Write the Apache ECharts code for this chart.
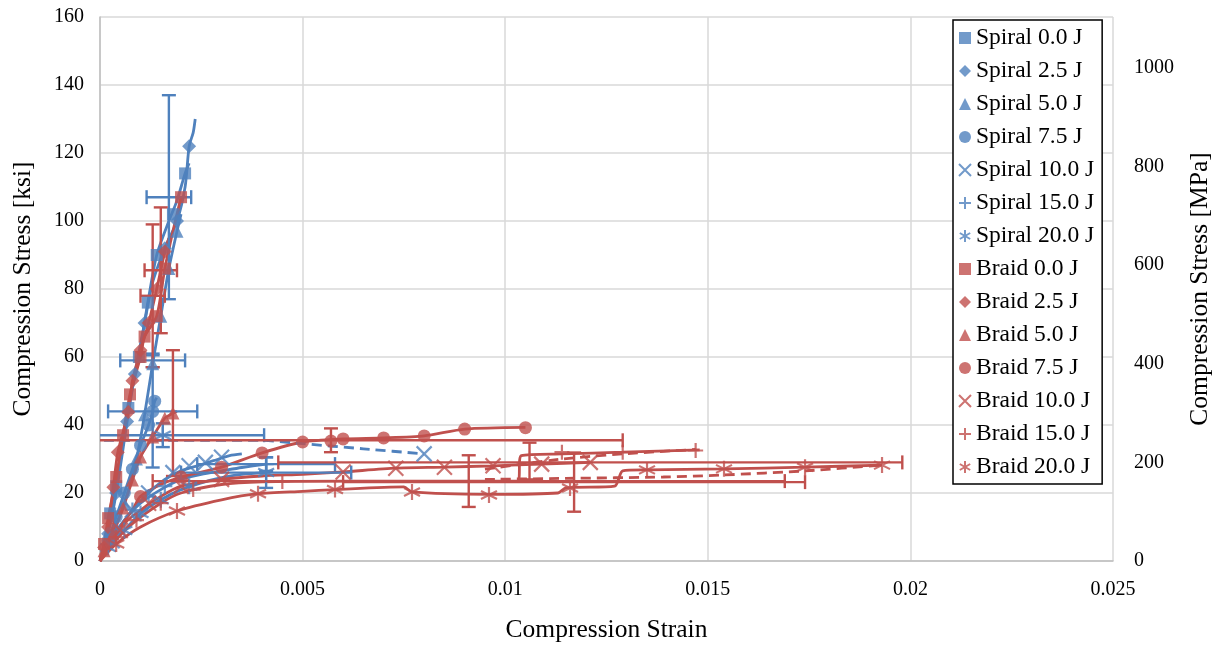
<!DOCTYPE html>
<html><head><meta charset="utf-8">
<script src="https://cdn.jsdelivr.net/npm/echarts@6/dist/echarts.min.js"></script>
<style>html,body{margin:0;padding:0;background:#fff}#c{width:1220px;height:645px}</style>
</head><body><div id="c"></div>
<script>
// ---------- DATA ----------
const seriesNames = ['Spiral 0.0 J','Spiral 2.5 J','Spiral 5.0 J','Spiral 7.5 J','Spiral 10.0 J','Spiral 15.0 J','Spiral 20.0 J',
  'Braid 0.0 J','Braid 2.5 J','Braid 5.0 J','Braid 7.5 J','Braid 10.0 J','Braid 15.0 J','Braid 20.0 J'];

// full stress-strain curves [strain, ksi]
const curveS00 = [[0,0],[0.0001,4],[0.00025,14],[0.0004,22],[0.00055,33],[0.0007,45],[0.00096,60],[0.00118,76],[0.0014,90],[0.0017,100],[0.0019,106],[0.0021,114],[0.0022,117]];
const curveS25 = [[0,0],[0.0002,8],[0.0004,20],[0.00067,41],[0.00086,55],[0.0011,70],[0.0013,82],[0.0016,92],[0.0019,100],[0.0021,110],[0.0022,122],[0.0023,126],[0.00235,130]];
const curveS50 = [[0,0],[0.0003,8],[0.0006,17],[0.0009,30],[0.0011,43],[0.0013,58],[0.0015,72],[0.0017,86],[0.0019,97],[0.002,102]];
const curveS75 = [[0,0],[0.0002,6],[0.0004,13],[0.0006,20],[0.0008,27],[0.001,34],[0.0012,40],[0.0013,44],[0.00135,47],[0.0014,48]];
const curveS10 = [[0,0],[0.0002,4],[0.0005,10],[0.0008,15],[0.0012,20],[0.0016,24],[0.002,26.5],[0.0024,28],[0.0028,29.5],[0.0032,31],[0.0035,31.5]];
const curveS15 = [[0,0],[0.0003,7],[0.0006,12],[0.001,17],[0.0015,21],[0.002,24],[0.0025,25.5],[0.003,26.5],[0.0035,27.5],[0.0041,28.5]];
const curveS20 = [[0,0],[0.0003,5],[0.0006,9],[0.001,14],[0.0015,18],[0.002,21],[0.0025,23],[0.003,24.5],[0.0035,25.5],[0.0041,26]];
const curveB00 = [[0,0],[0.0001,5],[0.0002,12.6],[0.0004,24.7],[0.00057,37],[0.00074,49],[0.001,60],[0.0011,66],[0.0014,72],[0.0016,86],[0.0018,97],[0.002,107]];
const curveB25 = [[0,0],[0.0001,4],[0.0002,10],[0.00033,21.7],[0.00044,32],[0.0007,43.8],[0.0008,53],[0.001,62],[0.0012,70],[0.0014,80],[0.0016,91],[0.0017,95]];
const curveB50 = [[0,0],[0.0001,3],[0.00032,8],[0.00057,15.6],[0.0008,23.8],[0.001,30.6],[0.0013,36.5],[0.0016,42],[0.0018,43.5],[0.0019,44]];
const curveB75 = [[0,0],[0.0002,4],[0.0005,10],[0.0008,15],[0.001,19],[0.0015,22.5],[0.002,24.7],[0.003,27.6],[0.004,31.8],[0.005,35],[0.006,35.9],[0.007,36.2],[0.008,36.8],[0.009,38.8],[0.0105,39.3]];
const curveB10 = [[0,0],[0.0003,6],[0.0006,11],[0.001,15],[0.0015,19],[0.002,22],[0.003,24],[0.004,25],[0.005,25.5],[0.006,26.2],[0.0073,27.3],[0.0085,27.6],[0.0097,28],[0.0109,28.5],[0.0121,29]];
const curveB15 = [[0,0],[0.0003,5],[0.0008,11],[0.0015,17],[0.002,20],[0.003,22.5],[0.004,23.3],[0.006,23.5],[0.008,23.5],[0.0103,23.5],[0.0104,31],[0.0114,31.5],[0.0129,32],[0.0148,32.7]];
const curveB20 = [[0,0],[0.0004,5],[0.001,10],[0.0019,14.7],[0.003,18],[0.0039,19.8],[0.005,20.5],[0.0058,21],[0.0075,21.8],[0.0077,20.3],[0.0096,19.6],[0.0113,20],[0.0115,21.5],[0.0127,22],[0.0129,26.5],[0.0135,26.8],[0.0154,27.1],[0.0174,27.6],[0.0193,28.2]];

// dashed (extrapolated) curves
const dashS10 = [[0.0001,35.5],[0.0025,35.5],[0.004,35.5],[0.005,34.5],[0.0065,33],[0.008,31.5]];
const dashB15 = [[0.0095,27],[0.0114,30],[0.0129,31.5],[0.0147,32.8]];
const dashB20 = [[0.0095,24],[0.0115,24.3],[0.0139,24.7],[0.0154,25.3],[0.0174,26.5],[0.0193,28.2]];

// marker points [strain, ksi]
const ptsS00 = [[0.00025,14],[0.0004,22],[0.0007,45],[0.00096,60],[0.00118,76],[0.0014,90],[0.0018,102],[0.0021,114]];
const ptsS25 = [[0.0002,8],[0.0004,20],[0.00067,41],[0.00086,55],[0.0011,70],[0.0016,92],[0.0019,100],[0.0022,122]];
const ptsS50 = [[0.0003,8],[0.0006,17],[0.0009,30],[0.0011,43],[0.0013,58],[0.0015,72],[0.0017,86],[0.0019,97]];
const ptsS75 = [[0.0002,6],[0.0004,13],[0.0006,20],[0.0008,27],[0.001,34],[0.0012,40],[0.0013,44],[0.00135,47]];
const ptsS10 = [[0.0003,6],[0.0008,15],[0.0012,20],[0.0018,26],[0.0022,28],[0.0026,29],[0.003,30.5],[0.008,31.5]];
const ptsS15 = [[0.0004,9],[0.0008,15],[0.0012,19],[0.0016,22],[0.0041,28.5]];
const ptsS20 = [[0.0002,4],[0.0006,9],[0.001,14],[0.0015,18],[0.0022,22],[0.0041,26],[0.00155,37]];
const ptsB00 = [[0.0001,5],[0.0002,12.6],[0.0004,24.7],[0.00057,37],[0.00074,49],[0.001,60],[0.0011,66],[0.0014,72],[0.0016,86],[0.002,107]];
const ptsB25 = [[0.0001,4],[0.0002,10],[0.00033,21.7],[0.00044,32],[0.0007,43.8],[0.0008,53],[0.001,62],[0.0012,70],[0.0014,80],[0.0016,91]];
const ptsB50 = [[0.0001,3],[0.00032,8],[0.00057,15.6],[0.0008,23.8],[0.001,30.6],[0.0013,36.5],[0.0016,42],[0.0018,43.5]];
const ptsB75 = [[0.001,19],[0.002,24.7],[0.003,27.6],[0.004,31.8],[0.005,35],[0.0057,35.3],[0.006,35.9],[0.007,36.2],[0.008,36.8],[0.009,38.8],[0.0105,39.2]];
const ptsB10 = [[0.0005,9],[0.0012,17],[0.002,22],[0.003,24],[0.006,26.2],[0.0073,27.3],[0.0085,27.6],[0.0097,28],[0.0109,28.5],[0.0121,29]];
const ptsB15 = [[0.0004,7],[0.0009,12],[0.0015,17],[0.0023,21],[0.0045,23.4],[0.0114,32],[0.0129,32],[0.0147,32.5]];
const ptsB20 = [[0.0004,5],[0.0019,14.7],[0.0039,19.8],[0.0058,21],[0.0077,20.3],[0.0096,19.4],[0.0116,21.5],[0.0135,26.8],[0.0154,27.1],[0.0174,27.6],[0.0193,28.2]];

// error bars [strain, ksi, strainErr, ksiErr]
const errSpiral = [[0.0017,107,0.00055,30],[0.0013,59,0.0008,2],[0.0013,44,0.0011,16.5],[0.00155,37,0.0025,3.5],[0.0041,28.5,0.0017,2],[0.0041,26,0.0021,4.5]];
const errBraid = [[0.0015,85.5,0.0004,18.5],[0.0013,78,0.0003,21],[0.0018,43.5,0,18.5],[0.0057,35.5,0.0072,3.5],[0.0121,29,0.0077,0],[0.0106,29.4,0,5.4],[0.0091,23.5,0.0078,7.6],[0.0117,23.2,0.0057,8.7]];

// ---------- STYLE ----------
const BLUE = '#4F81BD', RED = '#C0504D';
const SYM_X = 'path://M0,0L10,10M10,0L0,10';
const SYM_P = 'path://M5,0L5,10M0,5L10,5';
const SYM_S = 'path://M5,0L5,10M0.67,2.5L9.33,7.5M9.33,2.5L0.67,7.5';
const curves = [curveS00,curveS25,curveS50,curveS75,curveS10,curveS15,curveS20,curveB00,curveB25,curveB50,curveB75,curveB10,curveB15,curveB20];
const pts = [ptsS00,ptsS25,ptsS50,ptsS75,ptsS10,ptsS15,ptsS20,ptsB00,ptsB25,ptsB50,ptsB75,ptsB10,ptsB15,ptsB20];
const syms = ['rect','diamond','triangle','circle',SYM_X,SYM_P,SYM_S];
const symSize = [12,14,13,13,15,15,16];
const FONT = '"Liberation Serif","Times New Roman",serif';

const series = [];
curves.forEach((c,i)=>{
  const col = i<7?BLUE:RED;
  series.push({type:'line', name:'c'+i, data:c, showSymbol:false, symbol:'none', smooth:0.25,
    lineStyle:{color:col,width:2.8}, z:2, silent:true});
});
[[dashS10,BLUE],[dashB15,RED],[dashB20,RED]].forEach((d,k)=>{
  series.push({type:'line', name:'d'+k, data:d[0], showSymbol:false, symbol:'none', smooth:0.2,
    lineStyle:{color:d[1],width:2.8,type:[10,6]}, z:2, silent:true});
});
function errRender(col){
  return function(params, api){
    const x = api.value(0), y = api.value(1), ex = api.value(2), ey = api.value(3);
    const ch = [];
    const st = {stroke:col, lineWidth:2.4};
    if (ex>0){
      const a = api.coord([x-ex,y]), b = api.coord([x+ex,y]);
      ch.push({type:'line',shape:{x1:a[0],y1:a[1],x2:b[0],y2:b[1]},style:st});
      ch.push({type:'line',shape:{x1:a[0],y1:a[1]-7,x2:a[0],y2:a[1]+7},style:st});
      ch.push({type:'line',shape:{x1:b[0],y1:b[1]-7,x2:b[0],y2:b[1]+7},style:st});
    }
    if (ey>0){
      const a = api.coord([x,y-ey]), b = api.coord([x,y+ey]);
      ch.push({type:'line',shape:{x1:a[0],y1:a[1],x2:b[0],y2:b[1]},style:st});
      ch.push({type:'line',shape:{x1:a[0]-7,y1:a[1],x2:a[0]+7,y2:a[1]},style:st});
      ch.push({type:'line',shape:{x1:b[0]-7,y1:b[1],x2:b[0]+7,y2:b[1]},style:st});
    }
    return {type:'group',children:ch};
  };
}
series.push({type:'custom', name:'eS', data:errSpiral, renderItem:errRender(BLUE), clip:true, z:3, silent:true});
series.push({type:'custom', name:'eB', data:errBraid, renderItem:errRender(RED), clip:true, z:3, silent:true});
pts.forEach((p,i)=>{
  const col = i<7?BLUE:RED;
  const k = i%7;
  const stroke = k>=4;
  series.push({type:'scatter', name:seriesNames[i], data:p, symbol:syms[k], symbolSize:symSize[k], z:4,
    itemStyle: stroke ? {color:'rgba(0,0,0,0)', borderColor:col, borderWidth:2.2} : {color:col}});
});

const chart = echarts.init(document.getElementById('c'), null, {renderer:'canvas'});
chart.setOption({
  animation:false,
  backgroundColor:'#fff',
  grid:{left:100,right:107,top:17,bottom:84,containLabel:false,outerBoundsMode:'none'},
  legend:{data:seriesNames, orient:'vertical', left:953, top:20,
    backgroundColor:'#fff', borderColor:'#000', borderWidth:1.5, padding:[6,8,5,5],
    itemGap:9, itemWidth:12, itemHeight:12, selectedMode:false,
    textStyle:{fontFamily:FONT, fontSize:23.5, color:'#000', lineHeight:24}},
  xAxis:{type:'value', min:0, max:0.025, interval:0.005,
    name:'Compression Strain', nameLocation:'middle', nameGap:56,
    nameTextStyle:{fontFamily:FONT, fontSize:25.5, color:'#000'},
    axisLine:{lineStyle:{color:'#BFBFBF',width:1.5}}, axisTick:{show:false},
    axisLabel:{fontFamily:FONT, fontSize:20, color:'#000', margin:19, formatter:v=>String(+v.toFixed(3))},
    splitLine:{lineStyle:{color:'#D9D9D9',width:1.5}}},
  yAxis:[
    {type:'value', min:0, max:160, interval:20, position:'left',
     name:'Compression Stress [ksi]', nameLocation:'middle', nameGap:64,
     nameTextStyle:{fontFamily:FONT, fontSize:25.5, color:'#000'},
     axisLine:{show:true,lineStyle:{color:'#BFBFBF',width:1.5}}, axisTick:{show:false},
     axisLabel:{fontFamily:FONT, fontSize:20, color:'#000', margin:16},
     splitLine:{lineStyle:{color:'#D9D9D9',width:1.5}}},
    {type:'value', min:0, max:160*6.894757, interval:200, position:'right',
     name:'Compression Stress [MPa]', nameLocation:'middle', nameGap:74, nameRotate:90,
     nameTextStyle:{fontFamily:FONT, fontSize:25.5, color:'#000'},
     axisLine:{show:false}, axisTick:{show:false}, splitLine:{show:false},
     axisLabel:{fontFamily:FONT, fontSize:20, color:'#000', margin:21, showMaxLabel:false, formatter:v=>String(Math.round(v))}}
  ],
  series: series
});
</script></body></html>
